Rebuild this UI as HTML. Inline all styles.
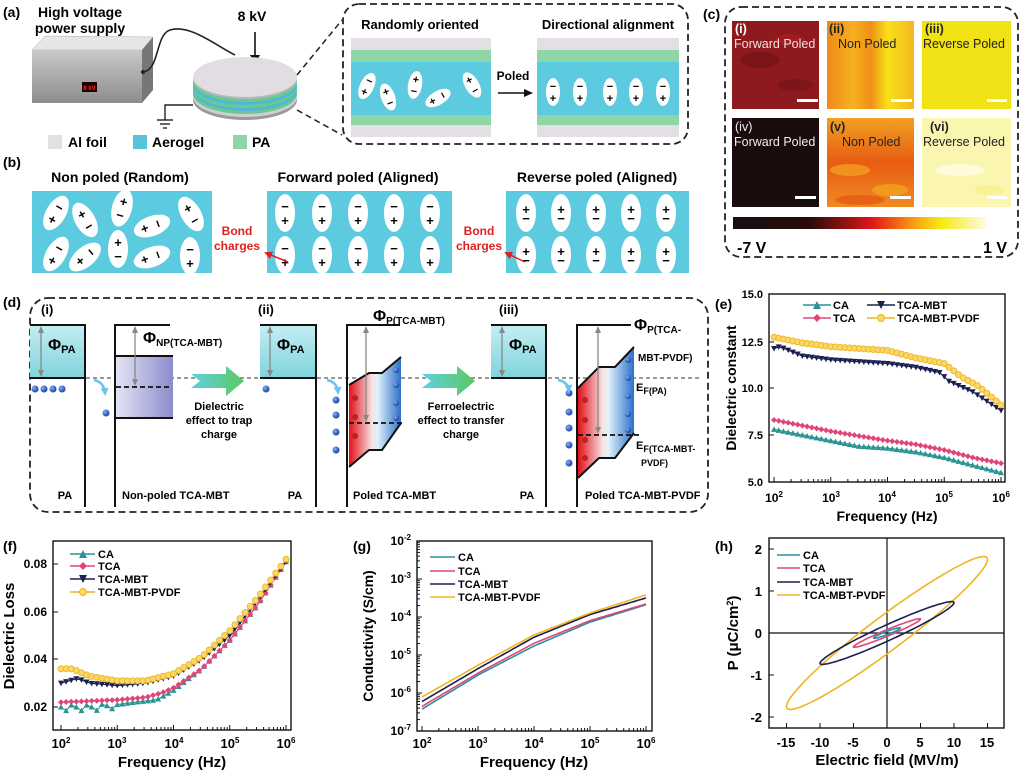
<!DOCTYPE html>
<html><head><meta charset="utf-8">
<style>
html,body{margin:0;padding:0;background:#fff;}
svg{display:block;font-family:"Liberation Sans",Arial,sans-serif;}
.b{font-weight:bold;}
</style></head>
<body>
<svg id="s" width="1024" height="773" viewBox="0 0 1024 773" xmlns="http://www.w3.org/2000/svg">
<defs>
<linearGradient id="gbox" x1="0" y1="0" x2="0" y2="1"><stop offset="0" stop-color="#c9c9cb"/><stop offset="1" stop-color="#8d8d90"/></linearGradient>
<linearGradient id="pa" x1="0" y1="0" x2="0" y2="1"><stop offset="0" stop-color="#c4eef2"/><stop offset="1" stop-color="#7fd3dc"/></linearGradient>
<linearGradient id="np" x1="0" y1="0" x2="1" y2="0"><stop offset="0" stop-color="#e4e4f4"/><stop offset="1" stop-color="#8a8ccc"/></linearGradient>
<linearGradient id="pol" x1="0" y1="0" x2="1" y2="0"><stop offset="0" stop-color="#e0101a"/><stop offset="0.45" stop-color="#f6e6e6"/><stop offset="0.55" stop-color="#dff0fa"/><stop offset="1" stop-color="#2a70c8"/></linearGradient>
<linearGradient id="garr" x1="0" y1="0" x2="1" y2="0"><stop offset="0" stop-color="#5fd0e0"/><stop offset="1" stop-color="#5cc860"/></linearGradient>
<linearGradient id="cbar" x1="0" y1="0" x2="1" y2="0"><stop offset="0" stop-color="#141010"/><stop offset="0.3" stop-color="#2a0a0a"/><stop offset="0.55" stop-color="#e01818"/><stop offset="0.72" stop-color="#f8a414"/><stop offset="0.82" stop-color="#f6ea10"/><stop offset="1" stop-color="#fffce8"/></linearGradient>
<linearGradient id="c2" x1="0" y1="0" x2="1" y2="0"><stop offset="0" stop-color="#f08a18"/><stop offset="0.3" stop-color="#f6b020"/><stop offset="0.5" stop-color="#f09018"/><stop offset="0.7" stop-color="#f8e018"/><stop offset="1" stop-color="#f2b820"/></linearGradient>
<linearGradient id="c5" x1="0" y1="0" x2="0" y2="1"><stop offset="0" stop-color="#f0a020"/><stop offset="0.5" stop-color="#e85c14"/><stop offset="1" stop-color="#f08a20"/></linearGradient>
<radialGradient id="el" cx="0.35" cy="0.35" r="0.7"><stop offset="0" stop-color="#7ab0ff"/><stop offset="1" stop-color="#1a3a9a"/></radialGradient>
<marker id="ah" markerUnits="userSpaceOnUse" markerWidth="8" markerHeight="8" refX="6" refY="4" orient="auto"><path d="M0,0 L8,4 L0,8 z" fill="#e02020"/></marker>
<marker id="gh" markerUnits="userSpaceOnUse" markerWidth="7" markerHeight="7" refX="4" refY="3.5" orient="auto"><path d="M0,0.5 L7,3.5 L0,6.5 z" fill="#888"/></marker>
<marker id="gt" markerUnits="userSpaceOnUse" markerWidth="7" markerHeight="7" refX="4" refY="3.5" orient="auto-start-reverse"><path d="M0,0.5 L7,3.5 L0,6.5 z" fill="#888"/></marker>
<marker id="ba" markerUnits="userSpaceOnUse" markerWidth="8" markerHeight="8" refX="5" refY="4" orient="auto"><path d="M0,0 L8,4 L0,8 z" fill="#6cc4ee"/></marker>
</defs>

<!-- ===== (a) ===== -->
<text x="3" y="17" class="b" font-size="14">(a)</text>
<text x="80" y="17" class="b" font-size="14" text-anchor="middle">High voltage</text>
<text x="80" y="33" class="b" font-size="14" text-anchor="middle">power supply</text>
<polygon points="32,50 45,36 153,37 142,50" fill="#e6e6e8" stroke="#aaa" stroke-width="0.5"/>
<rect x="32" y="50" width="110" height="53" fill="url(#gbox)"/>
<polygon points="142,50 153,37 153,90 142,103" fill="#77777a"/>
<rect x="82" y="82" width="15" height="10" fill="#200"/>
<text x="89.5" y="90" font-size="6" fill="#f22" text-anchor="middle" class="b">8 kV</text>
<circle cx="143" cy="72" r="2" fill="#222"/>
<path d="M143,72 C160,70 155,35 170,30 C190,24 215,45 235,55" fill="none" stroke="#222" stroke-width="1.6"/>
<text x="252" y="21" class="b" font-size="14" text-anchor="middle">8 kV</text>
<line x1="255" y1="32" x2="255" y2="58" stroke="#111" stroke-width="1.6"/><path d="M250,55 L255,64 L260,55 z" fill="#111"/>
<polyline points="193,105 165,105 165,120" fill="none" stroke="#222" stroke-width="1.4"/>
<line x1="157" y1="120" x2="173" y2="120" stroke="#222" stroke-width="1.4"/><line x1="160" y1="124" x2="170" y2="124" stroke="#222" stroke-width="1.4"/><line x1="163" y1="128" x2="167" y2="128" stroke="#222" stroke-width="1.4"/>
<ellipse cx="245" cy="100" rx="52" ry="20" fill="#9a9a9e"/>
<ellipse cx="245" cy="97" rx="52" ry="20" fill="#cfcfd3"/>
<ellipse cx="245" cy="94" rx="52" ry="20" fill="#6cc98e"/>
<ellipse cx="245" cy="91" rx="52" ry="20" fill="#4fb8d6"/>
<ellipse cx="245" cy="88" rx="52" ry="20" fill="#6cc98e"/>
<ellipse cx="245" cy="85" rx="52" ry="20" fill="#4fb8d6"/>
<ellipse cx="245" cy="82" rx="52" ry="20" fill="#6cc98e"/>
<ellipse cx="245" cy="79" rx="52" ry="20" fill="#b8b8bc"/>
<ellipse cx="245" cy="77" rx="52" ry="20" fill="#e2dde2"/>
<rect x="48" y="135" width="14" height="14" fill="#e4dfe4"/><text x="68" y="147" class="b" font-size="14">Al foil</text>
<rect x="133" y="135" width="14" height="14" fill="#55c4da"/><text x="152" y="147" class="b" font-size="14">Aerogel</text>
<rect x="233" y="135" width="14" height="14" fill="#8fd6a6"/><text x="252" y="147" class="b" font-size="14">PA</text>
<line x1="297" y1="75" x2="342" y2="20" stroke="#222" stroke-width="1.5" stroke-dasharray="6,4"/>
<line x1="297" y1="110" x2="342" y2="135" stroke="#222" stroke-width="1.5" stroke-dasharray="6,4"/>
<rect x="343" y="4" width="345" height="140" rx="16" fill="none" stroke="#222" stroke-width="1.8" stroke-dasharray="7,4"/>
<text x="420" y="29" class="b" font-size="13" text-anchor="middle">Randomly oriented</text>
<text x="608" y="29" class="b" font-size="13" text-anchor="middle">Directional alignment</text>
<g>
<rect x="351" y="38" width="140" height="99" fill="#e4dfe4"/><rect x="351" y="50" width="140" height="12" fill="#8fd6a6"/><rect x="351" y="62" width="140" height="53" fill="#5ccbe0"/><rect x="351" y="115" width="140" height="10" fill="#8fd6a6"/>
<rect x="537" y="38" width="142" height="99" fill="#e4dfe4"/><rect x="537" y="50" width="142" height="12" fill="#8fd6a6"/><rect x="537" y="62" width="142" height="53" fill="#5ccbe0"/><rect x="537" y="115" width="142" height="10" fill="#8fd6a6"/>
</g>
<g font-size="11" class="b" text-anchor="middle">
<g transform="translate(367,86) rotate(25)"><ellipse rx="7" ry="14" fill="#fff"/><text y="-2">−</text><text y="10">+</text></g>
<g transform="translate(388,97) rotate(-20)"><ellipse rx="7" ry="14" fill="#fff"/><text y="-2">+</text><text y="10">−</text></g>
<g transform="translate(415,85) rotate(10)"><ellipse rx="7" ry="14" fill="#fff"/><text y="-2">+</text><text y="10">−</text></g>
<g transform="translate(438,98) rotate(60)"><ellipse rx="7" ry="14" fill="#fff"/><text y="-2">−</text><text y="10">+</text></g>
<g transform="translate(472,85) rotate(-30)"><ellipse rx="7" ry="14" fill="#fff"/><text y="-2">+</text><text y="10">−</text></g>
<g transform="translate(553,92)"><ellipse rx="7" ry="14" fill="#fff"/><text y="-2">−</text><text y="10">+</text></g>
<g transform="translate(580,92)"><ellipse rx="7" ry="14" fill="#fff"/><text y="-2">−</text><text y="10">+</text></g>
<g transform="translate(610,92)"><ellipse rx="7" ry="14" fill="#fff"/><text y="-2">−</text><text y="10">+</text></g>
<g transform="translate(636,92)"><ellipse rx="7" ry="14" fill="#fff"/><text y="-2">−</text><text y="10">+</text></g>
<g transform="translate(663,92)"><ellipse rx="7" ry="14" fill="#fff"/><text y="-2">−</text><text y="10">+</text></g>
</g>
<text x="513" y="80" class="b" font-size="12" text-anchor="middle">Poled</text>
<line x1="498" y1="93" x2="527" y2="93" stroke="#111" stroke-width="1.5"/><path d="M524,89 L533,93 L524,97 z" fill="#111"/>

<!-- ===== (b) ===== -->
<text x="3" y="167" class="b" font-size="14">(b)</text>
<text x="120" y="182" class="b" font-size="14" text-anchor="middle">Non poled (Random)</text>
<text x="358" y="182" class="b" font-size="14" text-anchor="middle">Forward poled (Aligned)</text>
<text x="597" y="182" class="b" font-size="14" text-anchor="middle">Reverse poled (Aligned)</text>
<rect x="32" y="191" width="180" height="82" fill="#5ccbe0"/>
<rect x="267" y="191" width="185" height="82" fill="#5ccbe0"/>
<rect x="506" y="191" width="183" height="82" fill="#5ccbe0"/>
<g font-size="13" class="b" text-anchor="middle">
<g transform="translate(56,213) rotate(30)"><ellipse rx="10" ry="19" fill="#fff"/><text y="-2">−</text><text y="12">+</text></g>
<g transform="translate(85,220) rotate(-30)"><ellipse rx="10" ry="19" fill="#fff"/><text y="-2">+</text><text y="12">−</text></g>
<g transform="translate(122,208) rotate(15)"><ellipse rx="10" ry="19" fill="#fff"/><text y="-2">+</text><text y="12">−</text></g>
<g transform="translate(152,226) rotate(70)"><ellipse rx="10" ry="19" fill="#fff"/><text y="-2">−</text><text y="12">+</text></g>
<g transform="translate(191,214) rotate(-30)"><ellipse rx="10" ry="19" fill="#fff"/><text y="-2">+</text><text y="12">−</text></g>
<g transform="translate(56,254) rotate(30)"><ellipse rx="10" ry="19" fill="#fff"/><text y="-2">−</text><text y="12">+</text></g>
<g transform="translate(85,257) rotate(-130)"><ellipse rx="10" ry="19" fill="#fff"/><text y="-2">+</text><text y="12">−</text></g>
<g transform="translate(118,249)"><ellipse rx="10" ry="19" fill="#fff"/><text y="-2">+</text><text y="12">−</text></g>
<g transform="translate(152,257) rotate(70)"><ellipse rx="10" ry="19" fill="#fff"/><text y="-2">−</text><text y="12">+</text></g>
<g transform="translate(190,256)"><ellipse rx="10" ry="19" fill="#fff"/><text y="-2">−</text><text y="12">+</text></g>
<g transform="translate(285,213)"><ellipse rx="10" ry="19" fill="#fff"/><text y="-2">−</text><text y="12">+</text></g>
<g transform="translate(322,213)"><ellipse rx="10" ry="19" fill="#fff"/><text y="-2">−</text><text y="12">+</text></g>
<g transform="translate(358,213)"><ellipse rx="10" ry="19" fill="#fff"/><text y="-2">−</text><text y="12">+</text></g>
<g transform="translate(394,213)"><ellipse rx="10" ry="19" fill="#fff"/><text y="-2">−</text><text y="12">+</text></g>
<g transform="translate(430,213)"><ellipse rx="10" ry="19" fill="#fff"/><text y="-2">−</text><text y="12">+</text></g>
<g transform="translate(285,255)"><ellipse rx="10" ry="19" fill="#fff"/><text y="-2">−</text><text y="12">+</text></g>
<g transform="translate(322,255)"><ellipse rx="10" ry="19" fill="#fff"/><text y="-2">−</text><text y="12">+</text></g>
<g transform="translate(358,255)"><ellipse rx="10" ry="19" fill="#fff"/><text y="-2">−</text><text y="12">+</text></g>
<g transform="translate(394,255)"><ellipse rx="10" ry="19" fill="#fff"/><text y="-2">−</text><text y="12">+</text></g>
<g transform="translate(430,255)"><ellipse rx="10" ry="19" fill="#fff"/><text y="-2">−</text><text y="12">+</text></g>
<g transform="translate(526,213)"><ellipse rx="10" ry="19" fill="#fff"/><text y="1">+</text><text y="10">−</text></g>
<g transform="translate(561,213)"><ellipse rx="10" ry="19" fill="#fff"/><text y="1">+</text><text y="10">−</text></g>
<g transform="translate(596,213)"><ellipse rx="10" ry="19" fill="#fff"/><text y="1">+</text><text y="10">−</text></g>
<g transform="translate(631,213)"><ellipse rx="10" ry="19" fill="#fff"/><text y="1">+</text><text y="10">−</text></g>
<g transform="translate(666,213)"><ellipse rx="10" ry="19" fill="#fff"/><text y="1">+</text><text y="10">−</text></g>
<g transform="translate(526,255)"><ellipse rx="10" ry="19" fill="#fff"/><text y="1">+</text><text y="10">−</text></g>
<g transform="translate(561,255)"><ellipse rx="10" ry="19" fill="#fff"/><text y="1">+</text><text y="10">−</text></g>
<g transform="translate(596,255)"><ellipse rx="10" ry="19" fill="#fff"/><text y="1">+</text><text y="10">−</text></g>
<g transform="translate(631,255)"><ellipse rx="10" ry="19" fill="#fff"/><text y="1">+</text><text y="10">−</text></g>
<g transform="translate(666,255)"><ellipse rx="10" ry="19" fill="#fff"/><text y="1">+</text><text y="10">−</text></g>
</g>
<g fill="#e02020" class="b" font-size="12" text-anchor="middle">
<text x="237" y="235">Bond</text><text x="237" y="250">charges</text>
<text x="479" y="235">Bond</text><text x="479" y="250">charges</text></g>
<line x1="288" y1="262" x2="266" y2="253" stroke="#e02020" stroke-width="1.5" marker-end="url(#ah)"/>
<line x1="525" y1="262" x2="506" y2="253" stroke="#e02020" stroke-width="1.5" marker-end="url(#ah)"/>

<!-- ===== (c) ===== -->
<text x="703" y="19" class="b" font-size="14">(c)</text>
<rect x="725" y="7" width="293" height="250" rx="16" fill="none" stroke="#222" stroke-width="1.8" stroke-dasharray="7,4"/>
<rect x="732" y="21" width="87" height="88" fill="#8e1a1e"/>
<ellipse cx="760" cy="60" rx="20" ry="8" fill="#741418" opacity="0.7"/><ellipse cx="795" cy="85" rx="18" ry="6" fill="#701418" opacity="0.6"/><ellipse cx="790" cy="40" rx="15" ry="6" fill="#a82024" opacity="0.6"/>
<rect x="827" y="21" width="87" height="88" fill="url(#c2)"/>
<rect x="922" y="21" width="89" height="88" fill="#f0e214"/>
<rect x="732" y="118" width="87" height="89" fill="#1a0c0c"/>
<rect x="827" y="118" width="87" height="89" fill="url(#c5)"/>
<ellipse cx="850" cy="170" rx="20" ry="6" fill="#f4a424" opacity="0.7"/><ellipse cx="890" cy="190" rx="18" ry="6" fill="#f2b020" opacity="0.6"/><ellipse cx="860" cy="200" rx="25" ry="5" fill="#e04010" opacity="0.5"/>
<rect x="922" y="118" width="89" height="89" fill="#faf6b0"/>
<ellipse cx="960" cy="170" rx="25" ry="6" fill="#fffde0" opacity="0.8"/><ellipse cx="990" cy="190" rx="15" ry="5" fill="#f8f090" opacity="0.8"/>
<g fill="#fff"><rect x="797" y="99" width="21" height="3"/><rect x="891" y="99" width="21" height="3"/><rect x="987" y="99" width="20" height="3"/><rect x="795" y="196" width="21" height="3"/><rect x="890" y="196" width="21" height="3"/><rect x="987" y="196" width="20" height="3"/></g>
<g font-size="12.5">
<text x="735" y="33" fill="#fff" class="b">(i)</text><text x="734" y="48" fill="#f4dede">Forward Poled</text>
<text x="829" y="33" fill="#222" class="b">(ii)</text><text x="838" y="48" fill="#222">Non Poled</text>
<text x="925" y="33" fill="#222" class="b">(iii)</text><text x="923" y="48" fill="#222">Reverse Poled</text>
<text x="735" y="131" fill="#eee">(iv)</text><text x="734" y="146" fill="#eee">Forward Poled</text>
<text x="830" y="131" fill="#222" class="b">(v)</text><text x="842" y="146" fill="#222">Non Poled</text>
<text x="930" y="131" fill="#222" class="b">(vi)</text><text x="923" y="146" fill="#222">Reverse Poled</text>
</g>
<rect x="733" y="217" width="254" height="12" fill="url(#cbar)"/>
<text x="737" y="253" class="b" font-size="16">-7 V</text>
<text x="1007" y="253" class="b" font-size="16" text-anchor="end">1 V</text>

<!-- ===== (d) ===== -->
<text x="3" y="307" class="b" font-size="14">(d)</text>
<rect x="30" y="298" width="678" height="214" rx="18" fill="none" stroke="#222" stroke-width="1.8" stroke-dasharray="7,4"/>
<g class="b" font-size="13"><text x="41" y="314">(i)</text><text x="258" y="314">(ii)</text><text x="499" y="314">(iii)</text></g>
<line x1="30" y1="378" x2="700" y2="378" stroke="#333" stroke-width="1" stroke-dasharray="4,3"/>
<rect x="30" y="325" width="55" height="53" fill="url(#pa)"/>
<rect x="260" y="325" width="56" height="53" fill="url(#pa)"/>
<rect x="491" y="325" width="55" height="53" fill="url(#pa)"/>
<g stroke="#111" stroke-width="2" fill="none">
<polyline points="30,325 85,325 85,507"/><line x1="30" y1="378" x2="85" y2="378"/>
<polyline points="260,325 316,325 316,507"/><line x1="260" y1="378" x2="316" y2="378"/>
<polyline points="491,325 546,325 546,507"/><line x1="491" y1="378" x2="546" y2="378"/>
<polyline points="170,325 115,325 115,507"/>
<polyline points="400,325 347,325 347,507"/>
<polyline points="631,325 577,325 577,507"/>
</g>
<rect x="116" y="356" width="57" height="62" fill="url(#np)"/>
<line x1="116" y1="356" x2="173" y2="356" stroke="#111" stroke-width="2"/><line x1="116" y1="418" x2="173" y2="418" stroke="#111" stroke-width="2"/>
<line x1="116" y1="387" x2="172" y2="387" stroke="#111" stroke-width="1.8" stroke-dasharray="5,3"/>
<polygon points="349,385 369,373 382,373 401,357 401,423 382,450 369,450 349,467" fill="url(#pol)"/>
<polyline points="349,385 369,373 382,373 401,357" fill="none" stroke="#111" stroke-width="2"/>
<polyline points="349,467 369,450 382,450 401,423" fill="none" stroke="#111" stroke-width="2"/>
<line x1="349" y1="423" x2="403" y2="423" stroke="#111" stroke-width="1.8" stroke-dasharray="5,3"/>
<polygon points="578,388 599,367 615,367 634,347 634,433 615,458 599,458 578,478" fill="url(#pol)"/>
<polyline points="578,388 599,367 615,367 634,347" fill="none" stroke="#111" stroke-width="2"/>
<polyline points="578,478 599,458 615,458 634,433" fill="none" stroke="#111" stroke-width="2"/>
<line x1="578" y1="435" x2="642" y2="435" stroke="#111" stroke-width="1.8" stroke-dasharray="5,3"/>
<g stroke="#888" stroke-width="1.3">
<line x1="41" y1="329" x2="41" y2="374" marker-start="url(#gt)" marker-end="url(#gh)"/>
<line x1="270" y1="329" x2="270" y2="374" marker-start="url(#gt)" marker-end="url(#gh)"/>
<line x1="502" y1="329" x2="502" y2="374" marker-start="url(#gt)" marker-end="url(#gh)"/>
<line x1="135" y1="329" x2="135" y2="383" marker-start="url(#gt)" marker-end="url(#gh)"/>
<line x1="366" y1="329" x2="366" y2="419" marker-start="url(#gt)" marker-end="url(#gh)"/>
<line x1="598" y1="329" x2="598" y2="431" marker-start="url(#gt)" marker-end="url(#gh)"/>
</g>
<g class="b">
<text x="48" y="350" font-size="16">Φ<tspan font-size="11" dy="3">PA</tspan></text>
<text x="277" y="350" font-size="16">Φ<tspan font-size="11" dy="3">PA</tspan></text>
<text x="509" y="350" font-size="16">Φ<tspan font-size="11" dy="3">PA</tspan></text>
<text x="143" y="343" font-size="16">Φ<tspan font-size="10" dy="3">NP(TCA-MBT)</tspan></text>
<text x="373" y="321" font-size="16">Φ<tspan font-size="10" dy="3">P(TCA-MBT)</tspan></text>
<text x="634" y="330" font-size="16">Φ<tspan font-size="10" dy="3">P(TCA-</tspan></text>
<text x="638" y="361" font-size="10">MBT-PVDF)</text>
<text x="636" y="391" font-size="11">E<tspan font-size="9" dy="3">F(PA)</tspan></text>
<text x="636" y="449" font-size="11">E<tspan font-size="9" dy="3">F(TCA-MBT-</tspan></text>
<text x="641" y="466" font-size="9">PVDF)</text>
</g>
<path d="M191,374 L226,374 L226,366 L244,381 L226,396 L226,388 L191,388 L200,381 z" fill="url(#garr)"/>
<path d="M422,374 L457,374 L457,366 L475,381 L457,396 L457,388 L422,388 L431,381 z" fill="url(#garr)"/>
<g class="b" font-size="11" text-anchor="middle">
<text x="219" y="410">Dielectric</text><text x="219" y="424">effect to trap</text><text x="219" y="438">charge</text>
<text x="461" y="410">Ferroelectric</text><text x="461" y="424">effect to transfer</text><text x="461" y="438">charge</text>
<text x="65" y="499">PA</text><text x="295" y="499">PA</text><text x="527" y="499">PA</text>
</g>
<g class="b" font-size="11"><text x="122" y="499">Non-poled  TCA-MBT</text><text x="353" y="499">Poled  TCA-MBT</text><text x="585" y="499">Poled  TCA-MBT-PVDF</text></g>
<g fill="url(#el)">
<circle cx="35" cy="389" r="3.5"/><circle cx="44" cy="389" r="3.5"/><circle cx="53" cy="389" r="3.5"/><circle cx="62" cy="389" r="3.5"/>
<circle cx="106" cy="413" r="3.5"/><circle cx="266" cy="389" r="3.5"/>
<circle cx="336" cy="400" r="3.5"/><circle cx="336" cy="415" r="3.5"/><circle cx="336" cy="432" r="3.5"/><circle cx="336" cy="450" r="3.5"/>
<circle cx="569" cy="393" r="3.5"/><circle cx="569" cy="412" r="3.5"/><circle cx="569" cy="428" r="3.5"/><circle cx="569" cy="445" r="3.5"/><circle cx="569" cy="463" r="3.5"/>
<circle cx="396" cy="370" r="3"/><circle cx="396" cy="385" r="3"/><circle cx="396" cy="403" r="3"/><circle cx="396" cy="418" r="3"/>
<circle cx="628" cy="360" r="3"/><circle cx="628" cy="378" r="3"/><circle cx="628" cy="396" r="3"/><circle cx="628" cy="414" r="3"/><circle cx="628" cy="430" r="3"/>
</g>
<g fill="#c02020"><circle cx="355" cy="398" r="3"/><circle cx="355" cy="417" r="3"/><circle cx="355" cy="436" r="3"/>
<circle cx="585" cy="400" r="3"/><circle cx="585" cy="420" r="3"/><circle cx="585" cy="440" r="3"/><circle cx="585" cy="458" r="3"/></g>
<g fill="none" stroke="#6cc4ee" stroke-width="2.5">
<path d="M94,380 Q104,382 105,393" marker-end="url(#ba)"/>
<path d="M327,380 Q337,382 338,392" marker-end="url(#ba)"/>
<path d="M558,380 Q568,382 569,390" marker-end="url(#ba)"/>
</g>

<!-- ===== (e) ===== -->
<text x="715" y="309" class="b" font-size="14">(e)</text>
<rect x="769" y="294" width="236" height="188" fill="none" stroke="#111" stroke-width="1.4"/>
<g class="b" font-size="11" text-anchor="end">
<text x="763" y="298">15.0</text><text x="763" y="346">12.5</text><text x="763" y="392">10.0</text><text x="763" y="439">7.5</text><text x="763" y="486">5.0</text></g>
<g class="b" font-size="12" text-anchor="middle">
<text x="774" y="502">10<tspan font-size="8" dy="-5">2</tspan></text><text x="831" y="502">10<tspan font-size="8" dy="-5">3</tspan></text><text x="887" y="502">10<tspan font-size="8" dy="-5">4</tspan></text><text x="944" y="502">10<tspan font-size="8" dy="-5">5</tspan></text><text x="1001" y="502">10<tspan font-size="8" dy="-5">6</tspan></text></g>
<text x="887" y="521" class="b" font-size="14" text-anchor="middle">Frequency (Hz)</text>
<text transform="translate(736,388) rotate(-90)" class="b" font-size="14" text-anchor="middle">Dielectric constant</text>
<g class="b" font-size="11">
<line x1="803" y1="305" x2="831" y2="305" stroke="#2a9494" stroke-width="1.5"/><path d="M813,309 L817,301 L821,309z" fill="#2a9494"/><text x="833" y="309">CA</text>
<line x1="867" y1="305" x2="895" y2="305" stroke="#1c2050" stroke-width="1.5"/><path d="M877,301 L881,309 L885,301z" fill="#1c2050"/><text x="897" y="309">TCA-MBT</text>
<line x1="803" y1="318" x2="831" y2="318" stroke="#e0457a" stroke-width="1.5"/><path d="M817,314 L821,318 L817,322 L813,318z" fill="#e0457a"/><text x="833" y="322">TCA</text>
<line x1="867" y1="318" x2="895" y2="318" stroke="#f0b520" stroke-width="1.5"/><circle cx="881" cy="318" r="3.5" fill="#f8d868" stroke="#f0b520"/><text x="897" y="322">TCA-MBT-PVDF</text>
</g>
<g id="eg"></g>

<!-- ===== (f) ===== -->
<text x="3" y="551" class="b" font-size="14">(f)</text>
<rect x="53" y="541" width="238" height="189" fill="none" stroke="#111" stroke-width="1.4"/>
<g class="b" font-size="12" text-anchor="end"><text x="47" y="568">0.08</text><text x="47" y="616">0.06</text><text x="47" y="663">0.04</text><text x="47" y="711">0.02</text></g>
<g class="b" font-size="13" text-anchor="middle">
<text x="61" y="748">10<tspan font-size="8" dy="-5">2</tspan></text><text x="117" y="748">10<tspan font-size="8" dy="-5">3</tspan></text><text x="174" y="748">10<tspan font-size="8" dy="-5">4</tspan></text><text x="230" y="748">10<tspan font-size="8" dy="-5">5</tspan></text><text x="286" y="748">10<tspan font-size="8" dy="-5">6</tspan></text></g>
<text x="172" y="767" class="b" font-size="15" text-anchor="middle">Frequency (Hz)</text>
<text transform="translate(14,636) rotate(-90)" class="b" font-size="15" text-anchor="middle">Dielectric Loss</text>
<g class="b" font-size="11">
<line x1="70" y1="554" x2="95" y2="554" stroke="#2a9494" stroke-width="1.5"/><path d="M79,558 L83,550 L87,558z" fill="#2a9494"/><text x="98" y="558">CA</text>
<line x1="70" y1="566" x2="95" y2="566" stroke="#e0457a" stroke-width="1.5"/><path d="M83,562 L87,566 L83,570 L79,566z" fill="#e0457a"/><text x="98" y="570">TCA</text>
<line x1="70" y1="579" x2="95" y2="579" stroke="#1c2050" stroke-width="1.5"/><path d="M79,575 L83,583 L87,575z" fill="#1c2050"/><text x="98" y="583">TCA-MBT</text>
<line x1="70" y1="592" x2="95" y2="592" stroke="#f0b520" stroke-width="1.5"/><circle cx="83" cy="592" r="3.5" fill="#f8d868" stroke="#f0b520"/><text x="98" y="596">TCA-MBT-PVDF</text>
</g>
<g id="fg"></g>

<!-- ===== (g) ===== -->
<text x="353" y="551" class="b" font-size="14">(g)</text>
<rect x="417" y="541" width="235" height="190" fill="none" stroke="#111" stroke-width="1.4"/>
<g class="b" font-size="12" text-anchor="end">
<text x="411" y="545">10<tspan font-size="8" dy="-5">-2</tspan></text><text x="411" y="583">10<tspan font-size="8" dy="-5">-3</tspan></text><text x="411" y="621">10<tspan font-size="8" dy="-5">-4</tspan></text><text x="411" y="659">10<tspan font-size="8" dy="-5">-5</tspan></text><text x="411" y="697">10<tspan font-size="8" dy="-5">-6</tspan></text><text x="411" y="735">10<tspan font-size="8" dy="-5">-7</tspan></text></g>
<g class="b" font-size="13" text-anchor="middle">
<text x="422" y="748">10<tspan font-size="8" dy="-5">2</tspan></text><text x="478" y="748">10<tspan font-size="8" dy="-5">3</tspan></text><text x="534" y="748">10<tspan font-size="8" dy="-5">4</tspan></text><text x="590" y="748">10<tspan font-size="8" dy="-5">5</tspan></text><text x="646" y="748">10<tspan font-size="8" dy="-5">6</tspan></text></g>
<text x="534" y="767" class="b" font-size="15" text-anchor="middle">Frequency (Hz)</text>
<text transform="translate(373,636) rotate(-90)" class="b" font-size="14" text-anchor="middle">Conductivity (S/cm)</text>
<g class="b" font-size="11">
<line x1="430" y1="557" x2="455" y2="557" stroke="#2a8fa0" stroke-width="1.6"/><text x="458" y="561">CA</text>
<line x1="430" y1="571" x2="455" y2="571" stroke="#e0457a" stroke-width="1.6"/><text x="458" y="575">TCA</text>
<line x1="430" y1="584" x2="455" y2="584" stroke="#1c2050" stroke-width="1.6"/><text x="458" y="588">TCA-MBT</text>
<line x1="430" y1="597" x2="455" y2="597" stroke="#f0b520" stroke-width="1.6"/><text x="458" y="601">TCA-MBT-PVDF</text>
</g>
<g id="gg"></g>

<!-- ===== (h) ===== -->
<text x="715" y="551" class="b" font-size="14">(h)</text>
<rect x="769" y="538" width="235" height="190" fill="none" stroke="#111" stroke-width="1.4"/>
<line x1="887" y1="538" x2="887" y2="728" stroke="#111" stroke-width="1.2"/>
<line x1="769" y1="633" x2="1004" y2="633" stroke="#111" stroke-width="1.2"/>
<g class="b" font-size="13" text-anchor="end"><text x="762" y="554">2</text><text x="762" y="596">1</text><text x="762" y="638">0</text><text x="762" y="680">-1</text><text x="762" y="722">-2</text></g>
<g class="b" font-size="13" text-anchor="middle"><text x="786" y="747">-15</text><text x="820" y="747">-10</text><text x="853" y="747">-5</text><text x="887" y="747">0</text><text x="920" y="747">5</text><text x="954" y="747">10</text><text x="987" y="747">15</text></g>
<text x="887" y="765" class="b" font-size="15" text-anchor="middle">Electric field (MV/m)</text>
<text transform="translate(738,633) rotate(-90)" class="b" font-size="15" text-anchor="middle">P (μC/cm<tspan font-size="9" dy="-5">2</tspan><tspan dy="5">)</tspan></text>
<g class="b" font-size="11">
<line x1="777" y1="555" x2="800" y2="555" stroke="#2a8fa0" stroke-width="1.6"/><text x="803" y="559">CA</text>
<line x1="777" y1="568" x2="800" y2="568" stroke="#e0457a" stroke-width="1.6"/><text x="803" y="572">TCA</text>
<line x1="777" y1="582" x2="800" y2="582" stroke="#1c2050" stroke-width="1.6"/><text x="803" y="586">TCA-MBT</text>
<line x1="777" y1="595" x2="800" y2="595" stroke="#f0b520" stroke-width="1.6"/><text x="803" y="599">TCA-MBT-PVDF</text>
</g>
<g id="hg"></g>
</svg>
<script>
(function(){
var NS="http://www.w3.org/2000/svg";
function el(p,t,a){var e=document.createElementNS(NS,t);for(var k in a)e.setAttribute(k,a[k]);p.appendChild(e);return e;}
function ip(pts,x){for(var i=0;i<pts.length-1;i++){if(x<=pts[i+1][0]){var t=(x-pts[i][0])/(pts[i+1][0]-pts[i][0]);return pts[i][1]+t*(pts[i+1][1]-pts[i][1]);}}return pts[pts.length-1][1];}
var C={CA:"#2a9494",TCA:"#e0457a",MBT:"#1c2050",PV:"#f0b520"};
var S=3;
function marker(g,type,x,y,c){
 if(type=="tu")el(g,"path",{d:"M"+(x-S)+","+(y+S*0.85)+" L"+x+","+(y-S)+" L"+(x+S)+","+(y+S*0.85)+"z",fill:c});
 else if(type=="td")el(g,"path",{d:"M"+(x-S)+","+(y-S*0.85)+" L"+x+","+(y+S)+" L"+(x+S)+","+(y-S*0.85)+"z",fill:c});
 else if(type=="di")el(g,"path",{d:"M"+x+","+(y-S)+" L"+(x+S)+","+y+" L"+x+","+(y+S)+" L"+(x-S)+","+y+"z",fill:c});
 else el(g,"circle",{cx:x,cy:y,r:S,fill:"#f8d868",stroke:c,"stroke-width":0.9});
}
function ticksLog(g,x0,dec,yb,yt){for(var d=0;d<4;d++)for(var m=1;m<10;m++){var x=x0+(d+Math.log10(m))*dec;var L=m==1?5:3;
 el(g,"line",{x1:x,y1:yb,x2:x,y2:yb-L,stroke:"#111","stroke-width":1});}
 var x=x0+4*dec;el(g,"line",{x1:x,y1:yb,x2:x,y2:yb-5,stroke:"#111","stroke-width":1});}
function series(g,data,X,Y,n,mk,c,lw,jit){
 var d="",pts=[];for(var i=0;i<=n;i++){var lg=2+4*i/n;var v=ip(data,lg);if(jit)v+=jit(i,lg);var x=X(lg),y=Y(v);pts.push([x,y]);d+=(i?"L":"M")+x.toFixed(1)+","+y.toFixed(1);}
 el(g,"path",{d:d,fill:"none",stroke:c,"stroke-width":lw||1.2});
 if(mk)pts.forEach(function(p){marker(g,mk,p[0],p[1],c);});
}
var g=document.getElementById("eg");
ticksLog(g,774,56.75,482,294);
[294,342,388,435,482].forEach(function(y){el(g,"line",{x1:769,y1:y,x2:774,y2:y,stroke:"#111"});});
var EX=function(l){return 774+(l-2)*56.75},EY=function(v){return 482-(v-5)*18.8};
series(g,[[2,7.8],[3,7.2],[3.5,6.9],[4,6.8],[4.5,6.6],[5,6.3],[5.5,5.9],[6,5.5]],EX,EY,48,"tu",C.CA);
series(g,[[2,8.3],[3,7.7],[4,7.2],[4.5,7.0],[5,6.7],[5.5,6.3],[6,6.0]],EX,EY,48,"di",C.TCA);
series(g,[[2,12.1],[2.1,12.2],[2.5,11.7],[3,11.5],[4,11.3],[4.5,11.1],[4.95,10.8],[5.05,10.4],[5.5,9.8],[6,8.8]],EX,EY,48,"td",C.MBT);
series(g,[[2,12.7],[2.5,12.4],[3,12.2],[4,12.0],[4.5,11.6],[5,11.3],[5.3,10.6],[5.6,10.1],[6,9.1]],EX,EY,48,"ci",C.PV);
g=document.getElementById("fg");
ticksLog(g,61,56.25,730,541);
[564,612,659,707].forEach(function(y){el(g,"line",{x1:53,y1:y,x2:58,y2:y,stroke:"#111"});});
var FX=function(l){return 61+(l-2)*56.25},FY=function(v){return 707-(v-0.02)*2383};
series(g,[[2,0.020],[2.6,0.020],[3,0.021],[3.3,0.022],[3.7,0.023],[4,0.027],[4.5,0.036],[5,0.048],[5.5,0.063],[6,0.081]],FX,FY,44,"tu",C.CA,1,function(i,l){return l<3?((i%3==1)?-0.0015:(i%3==2?0.0008:0)):0;});
series(g,[[2,0.022],[3,0.023],[3.5,0.024],[3.8,0.026],[4,0.028],[4.5,0.036],[5,0.048],[5.5,0.063],[6,0.081]],FX,FY,44,"di",C.TCA);
series(g,[[2,0.030],[2.3,0.032],[2.5,0.030],[3,0.029],[3.5,0.030],[4,0.033],[4.5,0.040],[5,0.050],[5.5,0.065],[6,0.081]],FX,FY,44,"td",C.MBT);
series(g,[[2,0.036],[2.2,0.036],[2.5,0.033],[3,0.031],[3.5,0.031],[4,0.034],[4.5,0.041],[5,0.052],[5.5,0.066],[6,0.082]],FX,FY,44,"ci",C.PV);
g=document.getElementById("gg");
ticksLog(g,422,56,731,541);
for(var k=0;k<=5;k++){var y=541+k*38;el(g,"line",{x1:417,y1:y,x2:422,y2:y,stroke:"#111"});for(var m=2;m<10;m++){var yy=y+38-Math.log10(m)*38;if(yy<731)el(g,"line",{x1:417,y1:yy,x2:420,y2:yy,stroke:"#111"});}}
var GX=function(l){return 422+(l-2)*56},GY=function(v){return 731-(v+7)*37.8};
series(g,[[2,-6.42],[3,-5.52],[4,-4.75],[5,-4.12],[6,-3.66]],GX,GY,80,null,"#2a8fa0",1.6);
series(g,[[2,-6.35],[3,-5.47],[4,-4.68],[5,-4.08],[6,-3.64]],GX,GY,80,null,C.TCA,1.6);
series(g,[[2,-6.22],[3,-5.35],[4,-4.52],[5,-3.92],[6,-3.48]],GX,GY,80,null,C.MBT,1.6);
series(g,[[2,-6.1],[3,-5.26],[4,-4.46],[5,-3.88],[6,-3.4]],GX,GY,80,null,C.PV,1.6);
g=document.getElementById("hg");
for(var e=-15;e<=15;e+=5){var x=887+e*6.7;el(g,"line",{x1:x,y1:728,x2:x,y2:723,stroke:"#111"});}
for(var p=-2;p<=2;p+=1){var y=633-p*42;el(g,"line",{x1:769,y1:y,x2:774,y2:y,stroke:"#111"});}
function loop(Em,Pm,b,c){var d="";for(var i=0;i<=120;i++){var t=i/120*2*Math.PI;var E=Em*Math.cos(t),P=Pm*Math.cos(t)+b*Math.sin(t);d+=(i?"L":"M")+(887+E*6.7).toFixed(1)+","+(633-P*42).toFixed(1);}
 el(g,"path",{d:d+"z",fill:"none",stroke:c,"stroke-width":1.6});}
loop(15,1.75,0.5,C.PV);loop(10,0.72,0.2,C.MBT);loop(5,0.33,0.08,C.TCA);loop(2,0.12,0.04,"#2a8fa0");
})();
</script>
</body></html>
